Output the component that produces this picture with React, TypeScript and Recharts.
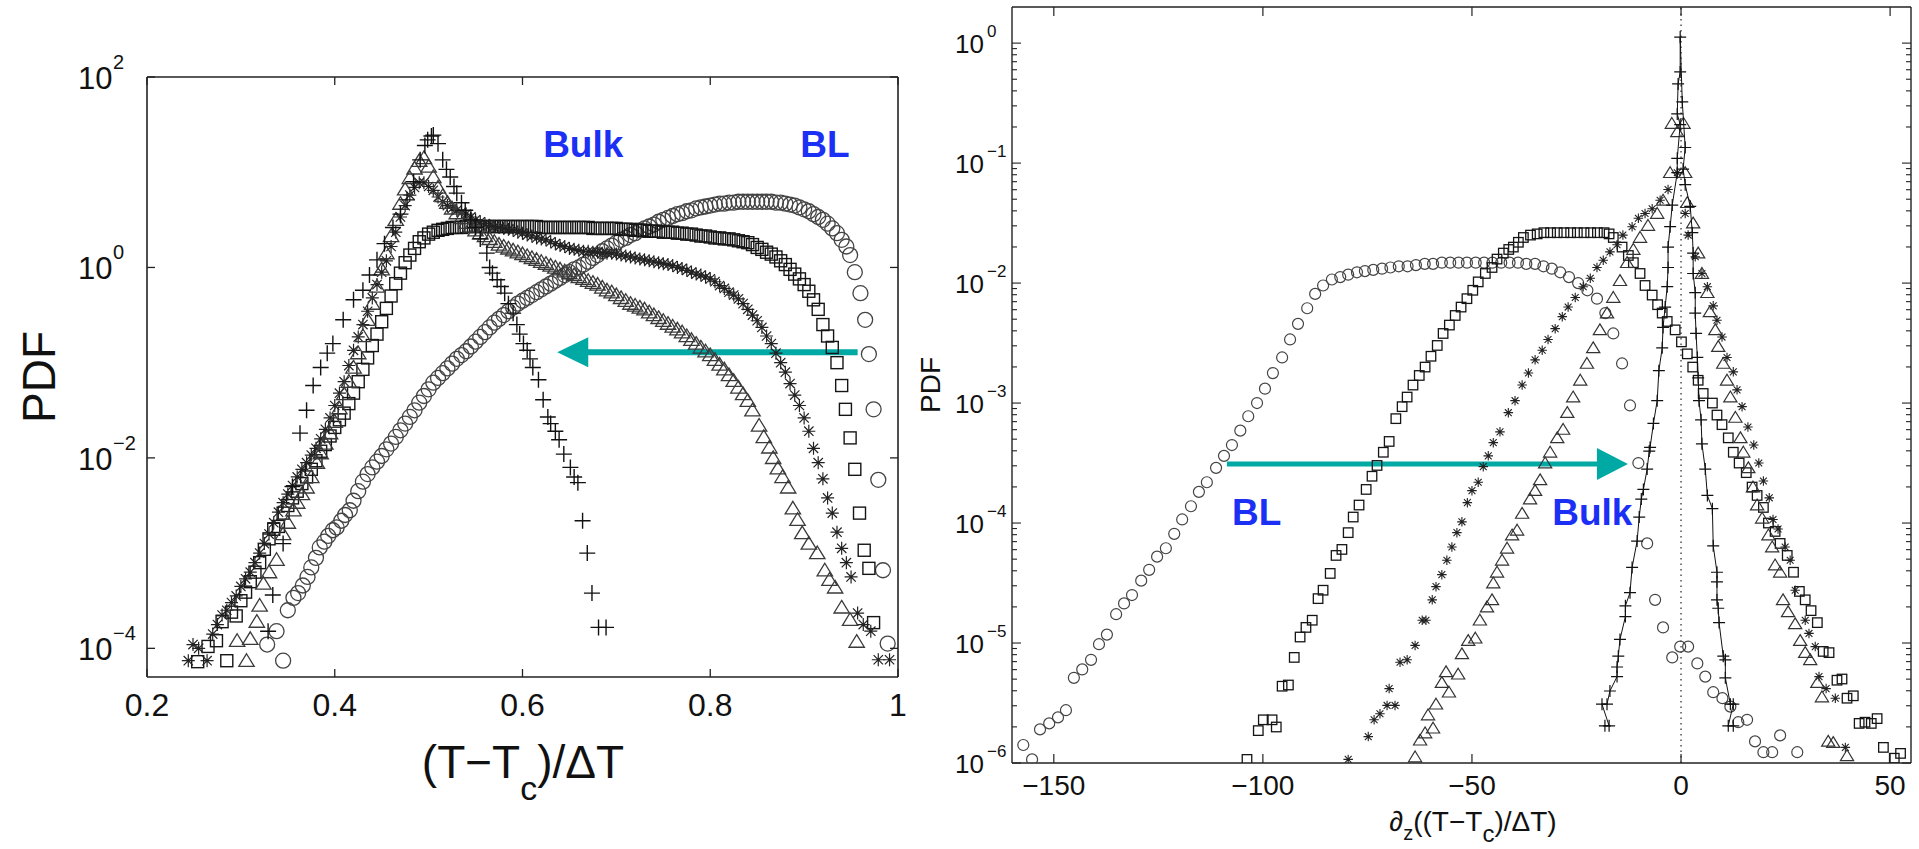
import React from 'react';
import { ScatterChart, Scatter, XAxis, YAxis, ReferenceLine, ReferenceDot } from 'recharts';

const FONT = '"Liberation Sans", Arial, Helvetica, sans-serif';
const AX = '#222';
const TEAL = '#00a9a4';
const BLUE = '#1b2ff5';

// Left panel: PDF of (T - Tc)/dT. Rows are [x, log10(PDF)].
const tempCircle = [
  [0.328, -3.96], [0.338, -3.82], [0.345, -4.13], [0.35, -3.6], [0.356, -3.47], [0.361, -3.42], [0.366, -3.34],
  [0.371, -3.25], [0.375, -3.15], [0.38, -3.05], [0.384, -2.94], [0.389, -2.88], [0.393, -2.82], [0.398, -2.76],
  [0.402, -2.73], [0.407, -2.66], [0.411, -2.6], [0.416, -2.55], [0.42, -2.45], [0.425, -2.35], [0.43, -2.25],
  [0.435, -2.17], [0.44, -2.1], [0.445, -2.04], [0.45, -1.98], [0.455, -1.91], [0.46, -1.85], [0.465, -1.78],
  [0.47, -1.71], [0.475, -1.64], [0.48, -1.57], [0.485, -1.5], [0.49, -1.42], [0.495, -1.35], [0.5, -1.28],
  [0.505, -1.21], [0.51, -1.16], [0.515, -1.11], [0.52, -1.06], [0.525, -1.01], [0.53, -0.96], [0.535, -0.92],
  [0.54, -0.88], [0.545, -0.83], [0.55, -0.78], [0.555, -0.73], [0.56, -0.68], [0.565, -0.63], [0.57, -0.58],
  [0.575, -0.54], [0.58, -0.5], [0.585, -0.46], [0.59, -0.42], [0.595, -0.38], [0.6, -0.35], [0.605, -0.32],
  [0.61, -0.29], [0.615, -0.26], [0.62, -0.23], [0.625, -0.2], [0.63, -0.17], [0.635, -0.14], [0.64, -0.11],
  [0.645, -0.08], [0.65, -0.05], [0.655, -0.02], [0.66, 0.0], [0.665, 0.03], [0.67, 0.06], [0.675, 0.1],
  [0.68, 0.13], [0.685, 0.17], [0.69, 0.2], [0.695, 0.23], [0.7, 0.26], [0.705, 0.29], [0.71, 0.31],
  [0.715, 0.34], [0.72, 0.36], [0.725, 0.39], [0.73, 0.41], [0.735, 0.43], [0.74, 0.45], [0.745, 0.48],
  [0.75, 0.5], [0.755, 0.52], [0.76, 0.54], [0.765, 0.56], [0.77, 0.57], [0.775, 0.59], [0.78, 0.6],
  [0.785, 0.62], [0.79, 0.63], [0.795, 0.64], [0.8, 0.65], [0.805, 0.66], [0.81, 0.67], [0.815, 0.67],
  [0.82, 0.68], [0.825, 0.68], [0.83, 0.69], [0.835, 0.69], [0.84, 0.69], [0.845, 0.69], [0.85, 0.69],
  [0.855, 0.69], [0.86, 0.69], [0.865, 0.69], [0.87, 0.68], [0.875, 0.68], [0.88, 0.67], [0.885, 0.66],
  [0.89, 0.65], [0.895, 0.63], [0.9, 0.61], [0.905, 0.59], [0.91, 0.56], [0.915, 0.53], [0.92, 0.5],
  [0.925, 0.46], [0.93, 0.41], [0.935, 0.36], [0.94, 0.29], [0.945, 0.22], [0.949, 0.13], [0.954, -0.05],
  [0.96, -0.27], [0.965, -0.55], [0.969, -0.91], [0.974, -1.49], [0.979, -2.23], [0.984, -3.18], [0.989, -3.95],
];

const tempSquare = [
  [0.254, -4.14], [0.265, -3.98], [0.274, -3.92], [0.28, -3.72], [0.285, -4.13], [0.29, -3.62], [0.295, -3.66],
  [0.3, -3.5], [0.305, -3.41], [0.31, -3.3], [0.315, -3.2], [0.32, -3.1], [0.325, -2.96], [0.33, -2.85],
  [0.335, -2.75], [0.34, -2.72], [0.345, -2.58], [0.35, -2.5], [0.355, -2.42], [0.36, -2.35], [0.365, -2.27],
  [0.37, -2.2], [0.375, -2.12], [0.38, -2.03], [0.385, -1.93], [0.39, -1.86], [0.395, -1.77], [0.4, -1.68],
  [0.405, -1.6], [0.41, -1.53], [0.415, -1.43], [0.42, -1.32], [0.425, -1.2], [0.43, -1.07], [0.435, -0.95],
  [0.44, -0.82], [0.445, -0.7], [0.45, -0.57], [0.455, -0.43], [0.46, -0.3], [0.465, -0.17], [0.47, -0.06],
  [0.475, 0.05], [0.48, 0.13], [0.485, 0.2], [0.49, 0.27], [0.495, 0.31], [0.5, 0.35], [0.505, 0.37],
  [0.51, 0.39], [0.515, 0.4], [0.52, 0.41], [0.525, 0.42], [0.53, 0.42], [0.535, 0.42], [0.54, 0.43],
  [0.545, 0.43], [0.55, 0.43], [0.555, 0.43], [0.56, 0.43], [0.565, 0.43], [0.57, 0.43], [0.575, 0.43],
  [0.58, 0.43], [0.585, 0.43], [0.59, 0.43], [0.595, 0.43], [0.6, 0.43], [0.605, 0.43], [0.61, 0.43],
  [0.615, 0.43], [0.62, 0.42], [0.625, 0.42], [0.63, 0.42], [0.635, 0.42], [0.64, 0.42], [0.645, 0.42],
  [0.65, 0.42], [0.655, 0.42], [0.66, 0.42], [0.665, 0.42], [0.67, 0.42], [0.675, 0.41], [0.68, 0.41],
  [0.685, 0.41], [0.69, 0.41], [0.695, 0.41], [0.7, 0.41], [0.705, 0.4], [0.71, 0.4], [0.715, 0.4],
  [0.72, 0.39], [0.725, 0.39], [0.73, 0.39], [0.735, 0.38], [0.74, 0.38], [0.745, 0.38], [0.75, 0.37],
  [0.755, 0.37], [0.76, 0.37], [0.765, 0.36], [0.77, 0.36], [0.775, 0.35], [0.78, 0.35], [0.785, 0.34],
  [0.79, 0.33], [0.795, 0.33], [0.8, 0.32], [0.805, 0.31], [0.81, 0.31], [0.815, 0.3], [0.82, 0.3],
  [0.825, 0.29], [0.83, 0.28], [0.835, 0.27], [0.84, 0.26], [0.845, 0.24], [0.85, 0.21], [0.855, 0.19],
  [0.86, 0.16], [0.865, 0.14], [0.87, 0.11], [0.875, 0.07], [0.88, 0.03], [0.885, -0.02], [0.89, -0.07],
  [0.895, -0.12], [0.9, -0.18], [0.905, -0.25], [0.91, -0.34], [0.915, -0.44], [0.92, -0.6], [0.925, -0.72],
  [0.93, -0.84], [0.935, -1.0], [0.94, -1.24], [0.944, -1.49], [0.949, -1.79], [0.954, -2.12], [0.959, -2.58],
  [0.964, -2.97], [0.969, -3.16], [0.974, -3.73],
];

const tempStar = [
  [0.244, -4.13], [0.249, -3.96], [0.255, -4.0], [0.264, -4.13], [0.27, -3.85], [0.275, -3.75], [0.28, -3.65],
  [0.285, -3.6], [0.29, -3.52], [0.295, -3.45], [0.3, -3.35], [0.305, -3.27], [0.31, -3.2], [0.315, -3.1],
  [0.32, -3.0], [0.325, -2.9], [0.33, -2.8], [0.335, -2.68], [0.34, -2.57], [0.345, -2.47], [0.35, -2.38],
  [0.355, -2.29], [0.36, -2.2], [0.365, -2.12], [0.37, -2.05], [0.375, -1.97], [0.38, -1.9], [0.385, -1.8],
  [0.39, -1.7], [0.395, -1.58], [0.4, -1.45], [0.405, -1.32], [0.41, -1.2], [0.415, -1.03], [0.42, -0.87],
  [0.425, -0.73], [0.43, -0.6], [0.435, -0.46], [0.44, -0.32], [0.445, -0.18], [0.45, -0.05], [0.455, 0.07],
  [0.46, 0.22], [0.465, 0.37], [0.47, 0.53], [0.475, 0.65], [0.48, 0.76], [0.485, 0.84], [0.49, 0.89],
  [0.495, 0.89], [0.5, 0.85], [0.505, 0.81], [0.51, 0.74], [0.515, 0.69], [0.52, 0.65], [0.525, 0.62],
  [0.53, 0.6], [0.535, 0.58], [0.54, 0.56], [0.545, 0.53], [0.55, 0.5], [0.555, 0.48], [0.56, 0.46],
  [0.565, 0.44], [0.57, 0.43], [0.575, 0.42], [0.58, 0.41], [0.585, 0.4], [0.59, 0.39], [0.595, 0.37],
  [0.6, 0.36], [0.605, 0.34], [0.61, 0.33], [0.615, 0.31], [0.62, 0.3], [0.625, 0.29], [0.63, 0.27],
  [0.635, 0.25], [0.64, 0.23], [0.645, 0.22], [0.65, 0.2], [0.655, 0.19], [0.66, 0.18], [0.665, 0.17],
  [0.67, 0.17], [0.675, 0.16], [0.68, 0.16], [0.685, 0.15], [0.69, 0.15], [0.695, 0.15], [0.7, 0.14],
  [0.705, 0.13], [0.71, 0.12], [0.715, 0.11], [0.72, 0.1], [0.725, 0.09], [0.73, 0.08], [0.735, 0.07],
  [0.74, 0.06], [0.745, 0.05], [0.75, 0.04], [0.755, 0.03], [0.76, 0.02], [0.765, 0.0], [0.77, -0.01],
  [0.775, -0.03], [0.78, -0.05], [0.785, -0.07], [0.79, -0.08], [0.795, -0.1], [0.8, -0.12], [0.805, -0.15],
  [0.81, -0.19], [0.815, -0.22], [0.82, -0.26], [0.825, -0.29], [0.83, -0.33], [0.835, -0.38], [0.84, -0.44],
  [0.845, -0.5], [0.85, -0.56], [0.855, -0.63], [0.86, -0.72], [0.865, -0.8], [0.87, -0.9], [0.875, -1.0],
  [0.88, -1.1], [0.885, -1.22], [0.89, -1.34], [0.895, -1.45], [0.9, -1.58], [0.905, -1.72], [0.91, -1.9],
  [0.915, -2.05], [0.92, -2.22], [0.925, -2.42], [0.93, -2.58], [0.935, -2.78], [0.94, -2.95], [0.945, -3.1],
  [0.95, -3.25], [0.957, -3.63], [0.963, -3.75], [0.971, -3.82], [0.979, -4.12], [0.991, -4.12],
];

const tempTriangle = [
  [0.296, -3.92], [0.306, -4.13], [0.31, -3.9], [0.317, -3.72], [0.32, -3.55], [0.324, -3.32], [0.33, -3.2],
  [0.338, -3.07], [0.345, -2.8], [0.35, -2.68], [0.356, -2.55], [0.36, -2.47], [0.365, -2.38], [0.37, -2.31],
  [0.375, -2.2], [0.381, -2.05], [0.385, -1.95], [0.39, -1.85], [0.395, -1.74], [0.4, -1.62], [0.405, -1.48],
  [0.41, -1.33], [0.415, -1.2], [0.42, -1.05], [0.425, -0.9], [0.43, -0.72], [0.435, -0.55], [0.44, -0.38],
  [0.445, -0.2], [0.45, -0.02], [0.455, 0.15], [0.46, 0.33], [0.465, 0.5], [0.47, 0.67], [0.475, 0.82],
  [0.48, 0.94], [0.485, 1.04], [0.49, 1.12], [0.495, 1.15], [0.5, 1.06], [0.505, 0.95], [0.51, 0.84],
  [0.515, 0.75], [0.52, 0.68], [0.525, 0.62], [0.53, 0.57], [0.535, 0.52], [0.54, 0.47], [0.545, 0.43],
  [0.55, 0.39], [0.555, 0.36], [0.56, 0.33], [0.565, 0.3], [0.57, 0.27], [0.575, 0.24], [0.58, 0.22],
  [0.585, 0.2], [0.59, 0.18], [0.595, 0.16], [0.6, 0.14], [0.605, 0.12], [0.61, 0.1], [0.615, 0.08],
  [0.62, 0.06], [0.625, 0.04], [0.63, 0.02], [0.635, 0.0], [0.64, -0.02], [0.645, -0.04], [0.65, -0.06],
  [0.655, -0.08], [0.66, -0.1], [0.665, -0.12], [0.67, -0.14], [0.675, -0.16], [0.68, -0.18], [0.685, -0.21],
  [0.69, -0.24], [0.695, -0.26], [0.7, -0.29], [0.705, -0.32], [0.71, -0.35], [0.715, -0.38], [0.72, -0.4],
  [0.725, -0.42], [0.73, -0.44], [0.735, -0.47], [0.74, -0.5], [0.745, -0.53], [0.75, -0.56], [0.755, -0.59],
  [0.76, -0.62], [0.765, -0.65], [0.77, -0.68], [0.775, -0.72], [0.78, -0.76], [0.785, -0.8], [0.79, -0.84],
  [0.795, -0.88], [0.8, -0.92], [0.805, -0.97], [0.81, -1.02], [0.815, -1.07], [0.82, -1.13], [0.825, -1.19],
  [0.83, -1.26], [0.835, -1.33], [0.84, -1.4], [0.845, -1.5], [0.852, -1.66], [0.857, -1.78], [0.863, -1.89],
  [0.867, -2.0], [0.872, -2.11], [0.877, -2.2], [0.883, -2.31], [0.888, -2.53], [0.893, -2.65], [0.898, -2.79],
  [0.905, -2.9], [0.914, -3.0], [0.922, -3.18], [0.927, -3.28], [0.933, -3.36], [0.94, -3.57], [0.949, -3.7],
  [0.956, -3.93],
];

const tempPlus = [
  [0.329, -3.82], [0.334, -3.44], [0.345, -2.9], [0.355, -2.3], [0.363, -1.74], [0.37, -1.5], [0.377, -1.24],
  [0.385, -1.05], [0.392, -0.9], [0.398, -0.8], [0.409, -0.55], [0.42, -0.34], [0.43, -0.24], [0.437, -0.08],
  [0.445, 0.08], [0.453, 0.25], [0.462, 0.42], [0.47, 0.56], [0.477, 0.71], [0.484, 0.9], [0.491, 1.13],
  [0.496, 1.28], [0.499, 1.34], [0.503, 1.38], [0.505, 1.39], [0.51, 1.3], [0.515, 1.13], [0.519, 1.03],
  [0.523, 0.95], [0.527, 0.85], [0.53, 0.78], [0.535, 0.68], [0.539, 0.6], [0.545, 0.5], [0.55, 0.42],
  [0.555, 0.3], [0.562, 0.15], [0.565, 0.0], [0.568, -0.06], [0.573, -0.13], [0.577, -0.2], [0.581, -0.27],
  [0.585, -0.38], [0.59, -0.48], [0.594, -0.6], [0.597, -0.7], [0.601, -0.8], [0.605, -0.87], [0.608, -0.96],
  [0.611, -1.05], [0.617, -1.18], [0.622, -1.39], [0.627, -1.57], [0.63, -1.64], [0.635, -1.72], [0.639, -1.81],
  [0.644, -1.96], [0.651, -2.1], [0.655, -2.2], [0.659, -2.26], [0.664, -2.66], [0.669, -3.0], [0.674, -3.42],
  [0.681, -3.78], [0.689, -3.78],
];

// Right panel: PDF of d_z((T - Tc)/dT). Rows are [x, log10(PDF)].
const gradCircle = [
  [-157.3, -5.85], [-155.2, -5.97], [-153.3, -5.72], [-151.1, -5.67], [-149, -5.62], [-147.1, -5.56],
  [-145.2, -5.29], [-143.2, -5.22], [-141.1, -5.14], [-139.2, -5.01], [-137.3, -4.93], [-135.1, -4.76],
  [-133.2, -4.67], [-131.3, -4.6], [-129.1, -4.48], [-127.2, -4.39], [-125.3, -4.28], [-123.2, -4.21],
  [-121.2, -4.09], [-119.3, -3.97], [-117.2, -3.86], [-115.3, -3.74], [-113.4, -3.66], [-111.2, -3.54],
  [-109.3, -3.44], [-107.4, -3.35], [-105.4, -3.23], [-103.5, -3.11], [-101.4, -3.0], [-99.5, -2.88],
  [-97.6, -2.75], [-95.4, -2.62], [-93.5, -2.47], [-91.6, -2.34], [-89.4, -2.21], [-87.5, -2.09],
  [-85.6, -2.02], [-83.5, -1.97], [-81.5, -1.95], [-79.6, -1.93], [-77.5, -1.91], [-75.6, -1.9],
  [-73.6, -1.89], [-71.5, -1.88], [-69.5, -1.87], [-67.5, -1.86], [-65.4, -1.86], [-63.4, -1.85],
  [-61.3, -1.84], [-59.3, -1.84], [-57.2, -1.83], [-55.2, -1.83], [-53.2, -1.83], [-51.2, -1.83],
  [-49.1, -1.83], [-47.1, -1.83], [-45.1, -1.83], [-43.0, -1.83], [-41.0, -1.83], [-39.0, -1.83],
  [-37.0, -1.84], [-34.9, -1.84], [-32.9, -1.86], [-30.9, -1.88], [-28.9, -1.91], [-26.8, -1.95],
  [-24.6, -2.0], [-22.4, -2.06], [-20.1, -2.13], [-18.1, -2.25], [-16.2, -2.42], [-14.1, -2.67],
  [-12.2, -3.02], [-10.2, -3.5], [-8.1, -4.17], [-6.2, -4.64], [-4.3, -4.87], [-2.1, -5.12], [-0.2, -5.03],
  [1.7, -5.03], [3.9, -5.17], [5.8, -5.28], [7.7, -5.41], [9.9, -5.46], [11.8, -5.53], [13.7, -5.66],
  [15.8, -5.64], [17.7, -5.82], [19.7, -5.91], [21.8, -5.91], [23.7, -5.77], [27.8, -5.91],
];

const gradSquare = [
  [-103.8, -5.97], [-101.1, -5.73], [-99.9, -5.64], [-97.8, -5.64], [-96.8, -5.7], [-95.4, -5.36],
  [-93.9, -5.35], [-92.5, -5.12], [-91.1, -4.95], [-89.7, -4.87], [-88.2, -4.81], [-86.8, -4.63],
  [-85.6, -4.56], [-83.9, -4.42], [-82.5, -4.27], [-81.1, -4.22], [-79.6, -4.08], [-78.4, -3.95],
  [-77, -3.85], [-75.3, -3.72], [-73.9, -3.61], [-72.7, -3.52], [-71.2, -3.41], [-69.8, -3.32],
  [-68.2, -3.13], [-66.7, -3.03], [-65.5, -2.95], [-64.1, -2.85], [-62.6, -2.77], [-61.2, -2.7],
  [-59.8, -2.61], [-58.3, -2.52], [-56.9, -2.42], [-55.4, -2.35], [-54, -2.27], [-52.6, -2.2],
  [-51.2, -2.13], [-49.8, -2.06], [-48.5, -1.99], [-46.8, -1.92], [-45.2, -1.87], [-44, -1.8],
  [-42.5, -1.75], [-41.2, -1.72], [-40.1, -1.7], [-38.9, -1.66], [-37.7, -1.62], [-36, -1.6],
  [-34.4, -1.59], [-32.8, -1.58], [-31.2, -1.58], [-29.6, -1.58], [-28, -1.58], [-26.4, -1.58],
  [-24.8, -1.58], [-23.2, -1.58], [-21.6, -1.58], [-20, -1.58], [-18.4, -1.58], [-17.2, -1.59],
  [-16.2, -1.62], [-14.1, -1.7], [-12.6, -1.77], [-11.4, -1.83], [-9.8, -1.92], [-8.6, -2.02],
  [-6.9, -2.1], [-5.6, -2.18], [-4.5, -2.25], [-3.3, -2.32], [-1.4, -2.39], [0.1, -2.49], [1.5, -2.59],
  [2.8, -2.7], [4.1, -2.81], [5.3, -2.92], [7.5, -3.0], [8.6, -3.1], [9.8, -3.18], [11.3, -3.29],
  [12.5, -3.41], [13.9, -3.5], [15.6, -3.58], [17, -3.7], [18.2, -3.77], [19.7, -3.87], [20.9, -4.0],
  [22.5, -4.07], [23.7, -4.17], [25.4, -4.27], [26.9, -4.41], [28.3, -4.57], [29.7, -4.64], [31.1, -4.73],
  [32.6, -4.83], [34, -5.07], [35.4, -5.08], [37.3, -5.31], [38.5, -5.3], [39.7, -5.46], [41.2, -5.44],
  [42.6, -5.67], [44, -5.66], [45.5, -5.67], [46.9, -5.63], [48.4, -5.87], [51, -5.96], [52.5, -5.92],
];

const gradStar = [
  [-79.6, -5.97], [-74.8, -5.78], [-73.4, -5.64], [-72, -5.59], [-70.3, -5.52], [-68.4, -5.52], [-69.8, -5.38],
  [-67.2, -5.16], [-65.5, -5.14], [-63.6, -5.02], [-61.9, -4.81], [-61, -4.81], [-59.5, -4.64], [-58.6, -4.53],
  [-57.2, -4.43], [-56, -4.31], [-54.8, -4.2], [-53.6, -4.08], [-52.4, -3.99], [-51.1, -3.83], [-50, -3.73],
  [-48.5, -3.66], [-47.3, -3.53], [-46.1, -3.44], [-44.9, -3.33], [-43.3, -3.24], [-41.3, -3.08],
  [-39.7, -2.98], [-38, -2.85], [-36.5, -2.75], [-34.9, -2.64], [-33.2, -2.56], [-31.8, -2.47],
  [-30.1, -2.38], [-28.4, -2.28], [-27, -2.2], [-25.3, -2.12], [-23.4, -2.03], [-21.7, -1.96],
  [-20.1, -1.87], [-18.6, -1.81], [-17, -1.74], [-15.3, -1.68], [-13.9, -1.6], [-11.7, -1.53],
  [-10.2, -1.46], [-8.6, -1.42], [-6.9, -1.38], [-5, -1.31], [-3.1, -1.22], [-0.9, -1.08], [1, -1.42],
  [1.7, -1.6], [3.4, -1.78], [5, -1.92], [6.3, -2.03], [7.7, -2.19], [8.6, -2.31], [9.8, -2.45], [11, -2.62],
  [12.5, -2.74], [13.4, -2.89], [14.6, -3.03], [16, -3.2], [17.4, -3.35], [18.6, -3.5], [19.7, -3.65],
  [21.1, -3.79], [22, -3.97], [23.2, -4.05], [24.9, -4.2], [26.1, -4.31], [27.3, -4.56], [29.7, -4.81],
  [30.6, -4.92], [32.1, -5.03], [33, -5.28], [34.7, -5.38], [36.9, -5.46], [39.3, -5.87],
];

const gradTriangle = [
  [-63.6, -5.95], [-62.4, -5.81], [-61.2, -5.75], [-59.3, -5.71], [-60.5, -5.6], [-58.6, -5.51], [-57.2, -5.33],
  [-55.5, -5.41], [-56.2, -5.24], [-53.3, -5.26], [-52.4, -5.09], [-50.9, -4.98], [-49.2, -4.96], [-48.1, -4.81],
  [-46.4, -4.7], [-45.2, -4.64], [-44.9, -4.5], [-44, -4.41], [-42.8, -4.31], [-41.6, -4.21], [-40.4, -4.1],
  [-39.2, -4.06], [-38, -3.92], [-36.1, -3.8], [-34.9, -3.73], [-33.7, -3.64], [-32.5, -3.5], [-31.3, -3.41],
  [-29.6, -3.29], [-28.2, -3.22], [-27.2, -3.08], [-25.8, -2.95], [-24.1, -2.81], [-22.5, -2.67], [-21, -2.54],
  [-19.4, -2.39], [-17.7, -2.25], [-16.2, -2.12], [-14.6, -1.98], [-12.9, -1.83], [-11.4, -1.72], [-9.8, -1.62],
  [-7.9, -1.52], [-5.7, -1.42], [-4.3, -1.31], [-2.6, -1.08], [-2.2, -0.67], [-0.9, -0.74], [0.6, -0.67],
  [1, -1.08], [1.5, -1.33], [2.9, -1.5], [4.1, -1.75], [5, -1.92], [6.3, -2.08], [6.9, -2.24], [8.2, -2.39],
  [8.9, -2.53], [10.1, -2.67], [11, -2.81], [11.8, -2.95], [13, -3.12], [14.2, -3.29], [14.9, -3.41],
  [16.1, -3.54], [17.2, -3.7], [18.2, -3.85], [19.4, -3.96], [20.9, -4.1], [21.8, -4.2], [22.5, -4.35],
  [23.7, -4.41], [24.4, -4.64], [25.6, -4.74], [27.3, -4.84], [28.5, -4.98], [29.7, -5.08], [30.9, -5.14],
  [32.6, -5.33], [33.7, -5.45], [35.2, -5.82], [36.4, -5.83], [39.7, -5.94],
];

// ordered along the curve so the connecting line runs up one flank and down the other
const gradPlus = [
  [-18.2, -5.69], [-17.2, -5.69], [-18.9, -5.51], [-17.7, -5.51], [-17, -5.4], [-15.3, -5.28], [-15.3, -5.2],
  [-15, -5.11], [-14.6, -4.97], [-13.3, -4.78], [-13.3, -4.69], [-12.2, -4.58], [-11.7, -4.37], [-10.5, -4.15],
  [-10, -3.95], [-9.5, -3.8], [-9, -3.72], [-8.1, -3.55], [-7.6, -3.4], [-7.4, -3.37], [-6.6, -3.17],
  [-5.7, -2.98], [-5.3, -2.73], [-4.5, -2.54], [-4.3, -2.37], [-3.8, -2.2], [-3.3, -2.03], [-3.1, -1.87],
  [-3.1, -1.7], [-2.6, -1.53], [-2.1, -1.35], [-0.9, -1.08], [-0.9, -0.96], [-0.2, -0.68], [-0.9, -0.59],
  [-0.7, -0.34], [-0.2, -0.24], [-0.2, 0.05], [0.3, -0.49], [1, -0.87], [0.5, -1.05], [1, -1.18],
  [2.2, -1.36], [2.7, -1.58], [2.9, -1.75], [2.9, -1.92], [3.4, -2.08], [3.4, -2.25], [3.6, -2.42],
  [3.9, -2.62], [4.1, -2.79], [4.3, -2.98], [4.8, -3.14], [5, -3.34], [5.8, -3.55], [6.3, -3.77],
  [7.5, -3.88], [7.7, -4.19], [8.6, -4.41], [8.6, -4.49], [8.6, -4.64], [8.9, -4.71], [9.1, -4.83],
  [10.1, -5.11], [10.6, -5.14], [10.6, -5.29], [11.8, -5.51], [12.5, -5.51], [11.3, -5.69], [12.5, -5.69],
];

const tempTicksX = [0.2, 0.4, 0.6, 0.8, 1];
const tempTicksY = [1e-4, 1e-2, 1, 100];
const gradTicksX = [-150, -100, -50, 0, 50];
const gradDecades = [1e-6, 1e-5, 1e-4, 1e-3, 1e-2, 1e-1, 1];
const gradMinorSteps = [2, 3, 4, 5, 6, 7, 8, 9];
const gradTicksY = [
  ...gradDecades,
  ...gradDecades.slice(0, -1).flatMap((d) => gradMinorSteps.map((m) => m * d)),
];

// annotation anchors, in data units
const tempArrow = { from: 0.957, base: 0.669, tip: 0.637, y: 0.129 };
const gradArrow = { from: -108.6, base: -20.1, tip: -12.7, y: 3.11e-4 };
const tempLabels = [
  { text: 'Bulk', x: 0.622, y: 14.45 },
  { text: 'BL', x: 0.896, y: 14.45 },
];
const gradLabels = [
  { text: 'BL', x: -107.4, y: 9.64e-5 },
  { text: 'Bulk', x: -30.8, y: 9.64e-5 },
];

const toPoints = (rows: number[][]) => rows.map(([x, lg]) => ({ x, y: Math.pow(10, lg) }));

// plot-area sizes, used to mirror tick marks onto the opposite frame edge
const TEMP_W = 751;
const TEMP_H = 600;
const GRAD_W = 899;
const GRAD_H = 756;

const expText = (v: number) => {
  const e = Math.round(Math.log10(v));
  return e < 0 ? '\u2212' + -e : String(e);
};
const isDecade = (v: number) => Math.abs(Math.log10(v) - Math.round(Math.log10(v))) < 1e-9;
const numText = (v: number) => (v < 0 ? '\u2212' + -v : String(v));

const markerShape = (kind: string, size: number, color: string, sw: number) => (p: any) => {
  const { cx, cy } = p;
  if (cx == null || cy == null || isNaN(cx) || isNaN(cy)) return <g />;
  const h = size / 2;
  const st = { fill: 'none', stroke: color, strokeWidth: sw };
  if (kind === 'circle') return <circle cx={cx} cy={cy} r={h} {...st} />;
  if (kind === 'square') return <rect x={cx - h} y={cy - h} width={size} height={size} {...st} />;
  if (kind === 'triangle')
    return <path d={`M${cx},${cy - h} L${cx + h * 1.1},${cy + h * 0.8} L${cx - h * 1.1},${cy + h * 0.8} Z`} {...st} />;
  if (kind === 'plus') return <path d={`M${cx - h},${cy} H${cx + h} M${cx},${cy - h} V${cy + h}`} {...st} />;
  const d = h * 0.72;
  return (
    <path
      d={`M${cx - h},${cy} H${cx + h} M${cx},${cy - h} V${cy + h} M${cx - d},${cy - d} L${cx + d},${cy + d} M${cx - d},${cy + d} L${cx + d},${cy - d}`}
      {...st}
    />
  );
};

const TempXTick = (p: any) => {
  const { x, y, payload } = p;
  return (
    <g>
      <line x1={x} y1={y} x2={x} y2={y - 8} stroke={AX} strokeWidth={1.3} />
      <line x1={x} y1={y - TEMP_H} x2={x} y2={y - TEMP_H + 8} stroke={AX} strokeWidth={1.3} />
      <text x={x} y={y + 39} textAnchor="middle" fontSize={32} fontFamily={FONT} fill="#111">
        {numText(payload.value)}
      </text>
    </g>
  );
};

const TempYTick = (p: any) => {
  const { x, y, payload } = p;
  return (
    <g>
      <line x1={x} y1={y} x2={x + 8} y2={y} stroke={AX} strokeWidth={1.3} />
      <line x1={x + TEMP_W} y1={y} x2={x + TEMP_W - 8} y2={y} stroke={AX} strokeWidth={1.3} />
      <text x={x - 69} y={y + 12} fontSize={31} fontFamily={FONT} fill="#111">10</text>
      <text x={x - 34} y={y - 8} fontSize={20} fontFamily={FONT} fill="#111">{expText(payload.value)}</text>
    </g>
  );
};

const GradXTick = (p: any) => {
  const { x, y, payload } = p;
  return (
    <g>
      <line x1={x} y1={y} x2={x} y2={y - 9} stroke={AX} strokeWidth={1.2} />
      <line x1={x} y1={y - GRAD_H} x2={x} y2={y - GRAD_H + 9} stroke={AX} strokeWidth={1.2} />
      <text x={x} y={y + 32} textAnchor="middle" fontSize={28} fontFamily={FONT} fill="#111">
        {numText(payload.value)}
      </text>
    </g>
  );
};

const GradYTick = (p: any) => {
  const { x, y, payload } = p;
  const major = isDecade(payload.value);
  const len = major ? 9 : 5;
  return (
    <g>
      <line x1={x} y1={y} x2={x + len} y2={y} stroke={AX} strokeWidth={1.1} />
      <line x1={x + GRAD_W} y1={y} x2={x + GRAD_W - len} y2={y} stroke={AX} strokeWidth={1.1} />
      {major && (
        <>
          <text x={x - 57} y={y + 10} fontSize={26} fontFamily={FONT} fill="#111">10</text>
          <text x={x - 25} y={y - 6} fontSize={17} fontFamily={FONT} fill="#111">{expText(payload.value)}</text>
        </>
      )}
    </g>
  );
};

const textDot = (text: string, size: number) => (p: any) => (
  <text x={p.cx} y={p.cy} fontSize={size} fontWeight="bold" fontFamily={FONT} fill={BLUE}>
    {text}
  </text>
);

const headLeft = (p: any) => (
  <polygon points={`${p.cx},${p.cy} ${p.cx + 31},${p.cy - 15} ${p.cx + 31},${p.cy + 15}`} fill={TEAL} />
);
const headRight = (p: any) => (
  <polygon points={`${p.cx},${p.cy} ${p.cx - 31},${p.cy - 16} ${p.cx - 31},${p.cy + 16}`} fill={TEAL} />
);

export default function App() {
  return (
    <div style={{ position: 'absolute', left: 0, top: 0, width: 1919, height: 849, background: '#fff', overflow: 'hidden' }}>
      <div style={{ position: 'absolute', left: 0, top: 0 }}>
        <ScatterChart width={925} height={849} margin={{ top: 77, right: 27, bottom: 142, left: 117 }}>
          <XAxis
            type="number"
            dataKey="x"
            domain={[0.2, 1]}
            ticks={tempTicksX}
            interval={0}
            allowDataOverflow
            height={30}
            tickSize={0}
            tickMargin={0}
            tickLine={false}
            axisLine={{ stroke: AX, strokeWidth: 1.6 }}
            tick={TempXTick}
          />
          <YAxis
            type="number"
            dataKey="y"
            scale="log"
            domain={[5e-5, 100]}
            ticks={tempTicksY}
            interval={0}
            allowDataOverflow
            width={30}
            tickSize={0}
            tickMargin={0}
            tickLine={false}
            axisLine={{ stroke: AX, strokeWidth: 1.6 }}
            tick={TempYTick}
          />
          <ReferenceLine y={100} stroke={AX} strokeWidth={1.6} />
          <ReferenceLine x={1} stroke={AX} strokeWidth={1.6} />
          <Scatter data={toPoints(tempCircle)} shape={markerShape('circle', 15, '#444', 1.3)} isAnimationActive={false} />
          <Scatter data={toPoints(tempSquare)} shape={markerShape('square', 12, '#151515', 1.4)} isAnimationActive={false} />
          <Scatter data={toPoints(tempStar)} shape={markerShape('star', 13, '#222', 1.2)} isAnimationActive={false} />
          <Scatter data={toPoints(tempTriangle)} shape={markerShape('triangle', 14, '#3a3a3a', 1.3)} isAnimationActive={false} />
          <Scatter data={toPoints(tempPlus)} shape={markerShape('plus', 16, '#111', 1.4)} isAnimationActive={false} />
          <ReferenceLine
            segment={[{ x: tempArrow.from, y: tempArrow.y }, { x: tempArrow.base, y: tempArrow.y }]}
            stroke={TEAL}
            strokeWidth={6}
          />
          <ReferenceDot x={tempArrow.tip} y={tempArrow.y} shape={headLeft} />
          {tempLabels.map((l) => (
            <ReferenceDot key={l.text} x={l.x} y={l.y} shape={textDot(l.text, 37)} />
          ))}
        </ScatterChart>
      </div>

      <div style={{ position: 'absolute', left: 900, top: 0 }}>
        <ScatterChart width={1019} height={849} margin={{ top: 7, right: 8, bottom: 56, left: 82 }}>
          <XAxis
            type="number"
            dataKey="x"
            domain={[-160, 55]}
            ticks={gradTicksX}
            interval={0}
            allowDataOverflow
            height={30}
            tickSize={0}
            tickMargin={0}
            tickLine={false}
            axisLine={{ stroke: AX, strokeWidth: 1.4 }}
            tick={GradXTick}
          />
          <YAxis
            type="number"
            dataKey="y"
            scale="log"
            domain={[1e-6, 2]}
            ticks={gradTicksY}
            interval={0}
            allowDataOverflow
            width={30}
            tickSize={0}
            tickMargin={0}
            tickLine={false}
            axisLine={{ stroke: AX, strokeWidth: 1.4 }}
            tick={GradYTick}
          />
          <ReferenceLine y={2} stroke={AX} strokeWidth={1.4} />
          <ReferenceLine x={55} stroke={AX} strokeWidth={1.4} />
          <ReferenceLine x={0} stroke="#111" strokeWidth={1.1} strokeDasharray="1.5 4" />
          <Scatter data={toPoints(gradCircle)} shape={markerShape('circle', 11, '#444', 1.2)} isAnimationActive={false} />
          <Scatter data={toPoints(gradSquare)} shape={markerShape('square', 9.5, '#151515', 1.3)} isAnimationActive={false} />
          <Scatter data={toPoints(gradStar)} shape={markerShape('star', 9.5, '#222', 1.1)} isAnimationActive={false} />
          <Scatter data={toPoints(gradTriangle)} shape={markerShape('triangle', 12, '#333', 1.2)} isAnimationActive={false} />
          <Scatter
            data={toPoints(gradPlus)}
            shape={markerShape('plus', 12, '#111', 1.2)}
            line={{ stroke: '#111', strokeWidth: 1 }}
            isAnimationActive={false}
          />
          <ReferenceLine
            segment={[{ x: gradArrow.from, y: gradArrow.y }, { x: gradArrow.base, y: gradArrow.y }]}
            stroke={TEAL}
            strokeWidth={5}
          />
          <ReferenceDot x={gradArrow.tip} y={gradArrow.y} shape={headRight} />
          {gradLabels.map((l) => (
            <ReferenceDot key={l.text} x={l.x} y={l.y} shape={textDot(l.text, 37)} />
          ))}
        </ScatterChart>
      </div>

      <svg width={1919} height={849} style={{ position: 'absolute', left: 0, top: 0, pointerEvents: 'none' }}>
        <g fontFamily={FONT} fill="#111">
          <text x={55} y={377} fontSize={46} textAnchor="middle" transform="rotate(-90 55 377)">PDF</text>
          <text x={523} y={778} fontSize={46} textAnchor="middle">
            (T{'\u2212'}T<tspan fontSize={34} dy={22}>c</tspan>
            <tspan dy={-22}>)/{'\u0394'}T</tspan>
          </text>
          <text x={940} y={385} fontSize={28} textAnchor="middle" transform="rotate(-90 940 385)">PDF</text>
          <text x={1473} y={831} fontSize={28} textAnchor="middle">
            {'\u2202'}<tspan fontSize={20} dy={9}>z</tspan>
            <tspan dy={-9}>((T{'\u2212'}T</tspan>
            <tspan fontSize={24} dy={11}>c</tspan>
            <tspan dy={-11}>)/{'\u0394'}T)</tspan>
          </text>
        </g>
      </svg>
    </div>
  );
}
